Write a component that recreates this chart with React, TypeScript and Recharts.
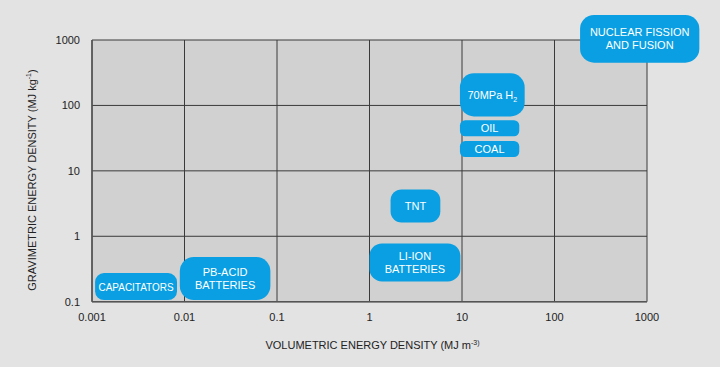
import React from 'react';
import { ScatterChart, Scatter, XAxis, YAxis, CartesianGrid, ReferenceArea } from 'recharts';

const xTicks = [0.001, 0.01, 0.1, 1, 10, 100, 1000];
const xTickLabels = ['0.001', '0.01', '0.1', '1', '10', '100', '1000'];
const yTicks = [0.1, 1, 10, 100, 1000];
const yTickLabels = ['0.1', '1', '10', '100', '1000'];

const boxLabels = [
  ['NUCLEAR FISSION', 'AND FUSION'],
  ['70MPa H'],
  ['OIL'],
  ['COAL'],
  ['TNT'],
  ['LI-ION', 'BATTERIES'],
  ['CAPACITATORS'],
  ['PB-ACID', 'BATTERIES'],
];
const boxSubscripts = ['', '2', '', '', '', '', '', ''];
const boxXMin = [189, 9.5, 9.5, 9.5, 1.69, 1.0, 0.00108, 0.0089];
const boxXMax = [3680, 47.6, 41.6, 41.6, 5.83, 9.6, 0.0083, 0.0848];
const boxYMin = [450, 68, 33.7, 16.3, 1.63, 0.204, 0.106, 0.106];
const boxYMax = [2410, 310, 59.2, 28.6, 5.21, 0.778, 0.2735, 0.481];

const FONT = '"Liberation Sans", Arial, Helvetica, sans-serif';
const BLUE = '#0a9fe2';

const centers = boxLabels.map((_, i) => ({
  x: Math.sqrt(boxXMin[i] * boxXMax[i]),
  y: Math.sqrt(boxYMin[i] * boxYMax[i]),
}));

function BoxShape(props: any) {
  const { x, y, width, height, lines, sub, squeeze } = props;
  if (x == null || y == null) return null;
  const rx = Math.min(14, height * 0.33);
  const cx = x + width / 2;
  const cy = y + height / 2;
  const lh = 13;
  const fs = 11;
  const n = lines.length;
  return (
    <g>
      <rect x={x} y={y} width={width} height={height} rx={rx} ry={rx} fill={BLUE} />
      {lines.map((l: string, i: number) => {
        const by = cy - ((n - 1) * lh) / 2 + i * lh + fs * 0.36;
        const extra: any = squeeze ? { textLength: squeeze, lengthAdjust: 'spacingAndGlyphs' } : {};
        return (
          <text key={i} x={cx} y={by} textAnchor="middle" fill="#fff" fontSize={fs} fontFamily={FONT} {...extra}>
            {l}
            {sub && i === n - 1 ? (
              <tspan fontSize={7} dy={3}>
                {sub}
              </tspan>
            ) : null}
          </text>
        );
      })}
    </g>
  );
}

export default function App() {
  return (
    <div style={{ position: 'absolute', left: 0, top: 0, width: 720, height: 367, background: '#e3e3e3' }}>
      <ScatterChart width={720} height={367} margin={{ top: 40, right: 73, bottom: 0, left: 0 }}>
        <CartesianGrid stroke="#3a3a3a" strokeWidth={1} fill="#d1d1d1" fillOpacity={1} />
        <XAxis
          type="number"
          dataKey="x"
          scale="log"
          domain={[0.001, 1000]}
          ticks={xTicks}
          allowDataOverflow
          height={65.3}
          tickSize={0}
          tickMargin={11}
          tickLine={false}
          axisLine={{ stroke: '#555', strokeWidth: 1.5 }}
          tick={{ fontSize: 11, fill: '#222', fontFamily: FONT }}
          tickFormatter={(v: number) => xTickLabels[xTicks.indexOf(v)] ?? String(v)}
          interval={0}
          label={{
            content: () => (
              <text x={372.5} y={349} textAnchor="middle" fontSize={11} fill="#222" fontFamily={FONT}>
                VOLUMETRIC ENERGY DENSITY (MJ m
                <tspan fontSize={7} dy={-4}>
                  -3)
                </tspan>
              </text>
            ),
          }}
        />
        <YAxis
          type="number"
          dataKey="y"
          scale="log"
          domain={[0.1, 1000]}
          ticks={yTicks}
          allowDataOverflow
          width={92}
          tickSize={0}
          tickMargin={12}
          tickLine={false}
          axisLine={{ stroke: '#555', strokeWidth: 1.5 }}
          tick={{ fontSize: 11, fill: '#222', fontFamily: FONT }}
          tickFormatter={(v: number) => yTickLabels[yTicks.indexOf(v)] ?? String(v)}
          interval={0}
          label={{
            content: () => (
              <text
                x={32}
                y={180}
                transform="rotate(-90 32 180)"
                textAnchor="middle"
                dominantBaseline="central"
                fontSize={11}
                fill="#222"
                fontFamily={FONT}
              >
                GRAVIMETRIC ENERGY DENSITY (MJ kg
                <tspan fontSize={7} dy={-4}>
                  -1
                </tspan>
                <tspan dy={4}>)</tspan>
              </text>
            ),
          }}
        />
        <Scatter data={centers} isAnimationActive={false} shape={() => <g />} />
        {boxLabels.map((lines, i) => (
          <ReferenceArea
            key={i}
            x1={boxXMin[i]}
            x2={boxXMax[i]}
            y1={boxYMin[i]}
            y2={boxYMax[i]}
            ifOverflow="visible"
            shape={(p: any) => (
              <BoxShape {...p} lines={lines} sub={boxSubscripts[i]} squeeze={lines[0] === 'CAPACITATORS' ? 75 : 0} />
            )}
          />
        ))}
      </ScatterChart>
    </div>
  );
}
